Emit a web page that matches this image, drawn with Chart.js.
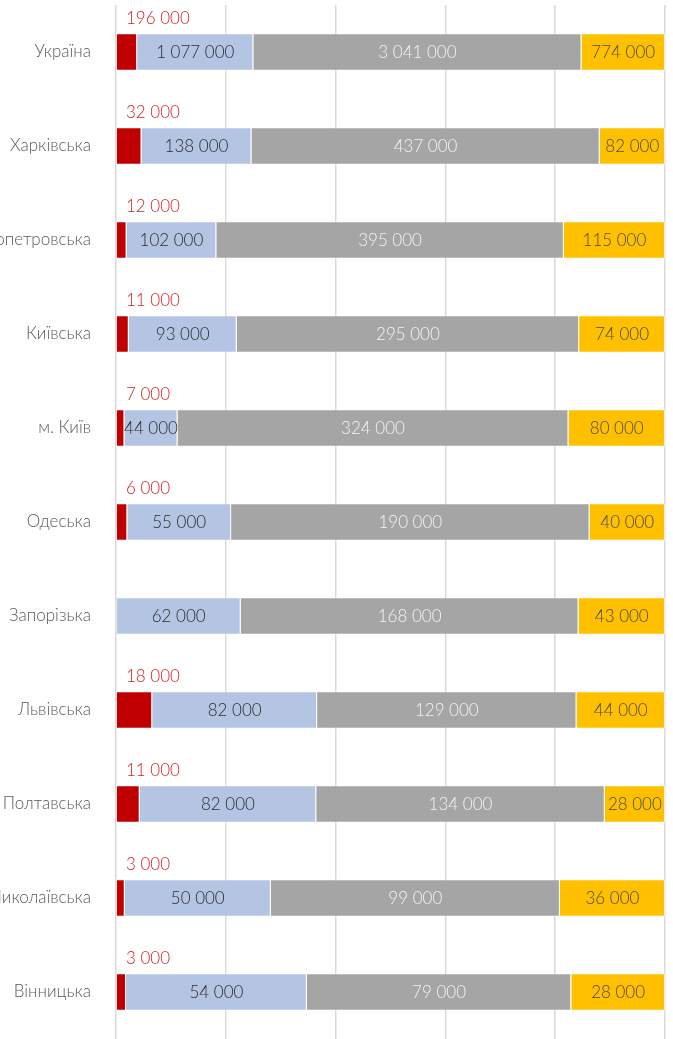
<!DOCTYPE html>
<html>
<head>
<meta charset="utf-8">
<script src="https://cdn.jsdelivr.net/npm/chart.js@4"></script>
<style>
    body { margin: 0; background: #fff; }
    #wrap { width: 673px; height: 1039px; position: relative; }
</style>
</head>
<body>
<div id="wrap"><canvas id="regionChart"></canvas></div>
<script>
// regions (top to bottom)
const regions = ['Україна', 'Харківська', 'Дніпропетровська', 'Київська', 'м. Київ', 'Одеська',
    'Запорізька', 'Львівська', 'Полтавська', 'Миколаївська', 'Вінницька'];

// four groups, absolute numbers
const redValues    = [196000, 32000, 12000, 11000, 7000, 6000, 0, 18000, 11000, 3000, 3000];
const blueValues   = [1077000, 138000, 102000, 93000, 44000, 55000, 62000, 82000, 82000, 50000, 54000];
const grayValues   = [3041000, 437000, 395000, 295000, 324000, 190000, 168000, 129000, 134000, 99000, 79000];
const yellowValues = [774000, 82000, 115000, 74000, 80000, 40000, 43000, 44000, 28000, 36000, 28000];

const xTicks = [0, 20, 40, 60, 80, 100];

const FONT = 'Lato, "Open Sans", sans-serif';

const totals = regions.map((_, i) => redValues[i] + blueValues[i] + grayValues[i] + yellowValues[i]);
const toPct = arr => arr.map((v, i) => v / totals[i] * 100);

function fmt(v) {
    return String(v).replace(/\B(?=(\d{3})+(?!\d))/g, ' ');
}

const series = [
    { raw: redValues,    color: '#c00000', text: '#d42222', outside: true },
    { raw: blueValues,   color: '#b4c5e4', text: '#2b2b2b' },
    { raw: grayValues,   color: '#a5a5a5', text: '#f4f4f4' },
    { raw: yellowValues, color: '#ffc000', text: '#4a4a4a' }
];

// draws the numbers on/above the segments
const valueLabels = {
    id: 'valueLabels',
    afterDatasetsDraw(chart) {
        const ctx = chart.ctx;
        const left = chart.chartArea.left;
        ctx.save();
        ctx.font = '300 17px ' + FONT;
        ctx.textBaseline = 'middle';
        chart.data.datasets.forEach((ds, di) => {
            const s = series[di];
            chart.getDatasetMeta(di).data.forEach((bar, i) => {
                const v = s.raw[i];
                if (!v) return;
                ctx.fillStyle = s.text;
                if (s.outside) {
                    ctx.textAlign = 'left';
                    ctx.fillText(fmt(v), left + 10, bar.y - 33);
                } else {
                    ctx.textAlign = 'center';
                    ctx.fillText(fmt(v), (bar.base + bar.x) / 2, bar.y + 1);
                }
            });
        });
        ctx.restore();
    }
};

new Chart(document.getElementById('regionChart'), {
    type: 'bar',
    data: {
        labels: regions,
        datasets: series.map(s => ({
            data: toPct(s.raw),
            backgroundColor: s.color,
            borderColor: 'rgba(255,255,255,0.55)',
            borderWidth: 1,
            barPercentage: 0.4,
            categoryPercentage: 1
        }))
    },
    options: {
        indexAxis: 'y',
        responsive: true,
        maintainAspectRatio: false,
        animation: false,
        layout: { padding: { top: 5, right: 8, bottom: 0, left: 0 } },
        plugins: {
            legend: { display: false },
            tooltip: { enabled: false }
        },
        scales: {
            x: {
                stacked: true,
                min: 0,
                max: 100,
                afterBuildTicks(scale) {
                    scale.ticks = xTicks.map(v => ({ value: v }));
                },
                afterFit(scale) { scale.height = 0; },
                ticks: { display: false },
                grid: { color: '#d9d9d9', lineWidth: 1.5, drawTicks: false },
                border: { display: false }
            },
            y: {
                stacked: true,
                afterFit(scale) {
                    scale.width = 116;
                    scale.paddingTop = 0;
                    scale.paddingBottom = 0;
                },
                ticks: {
                    padding: 17,
                    color: '#595959',
                    font: { family: FONT, size: 17, weight: '300' }
                },
                grid: { display: false },
                border: { display: false }
            }
        }
    },
    plugins: [valueLabels]
});
</script>
</body>
</html>
